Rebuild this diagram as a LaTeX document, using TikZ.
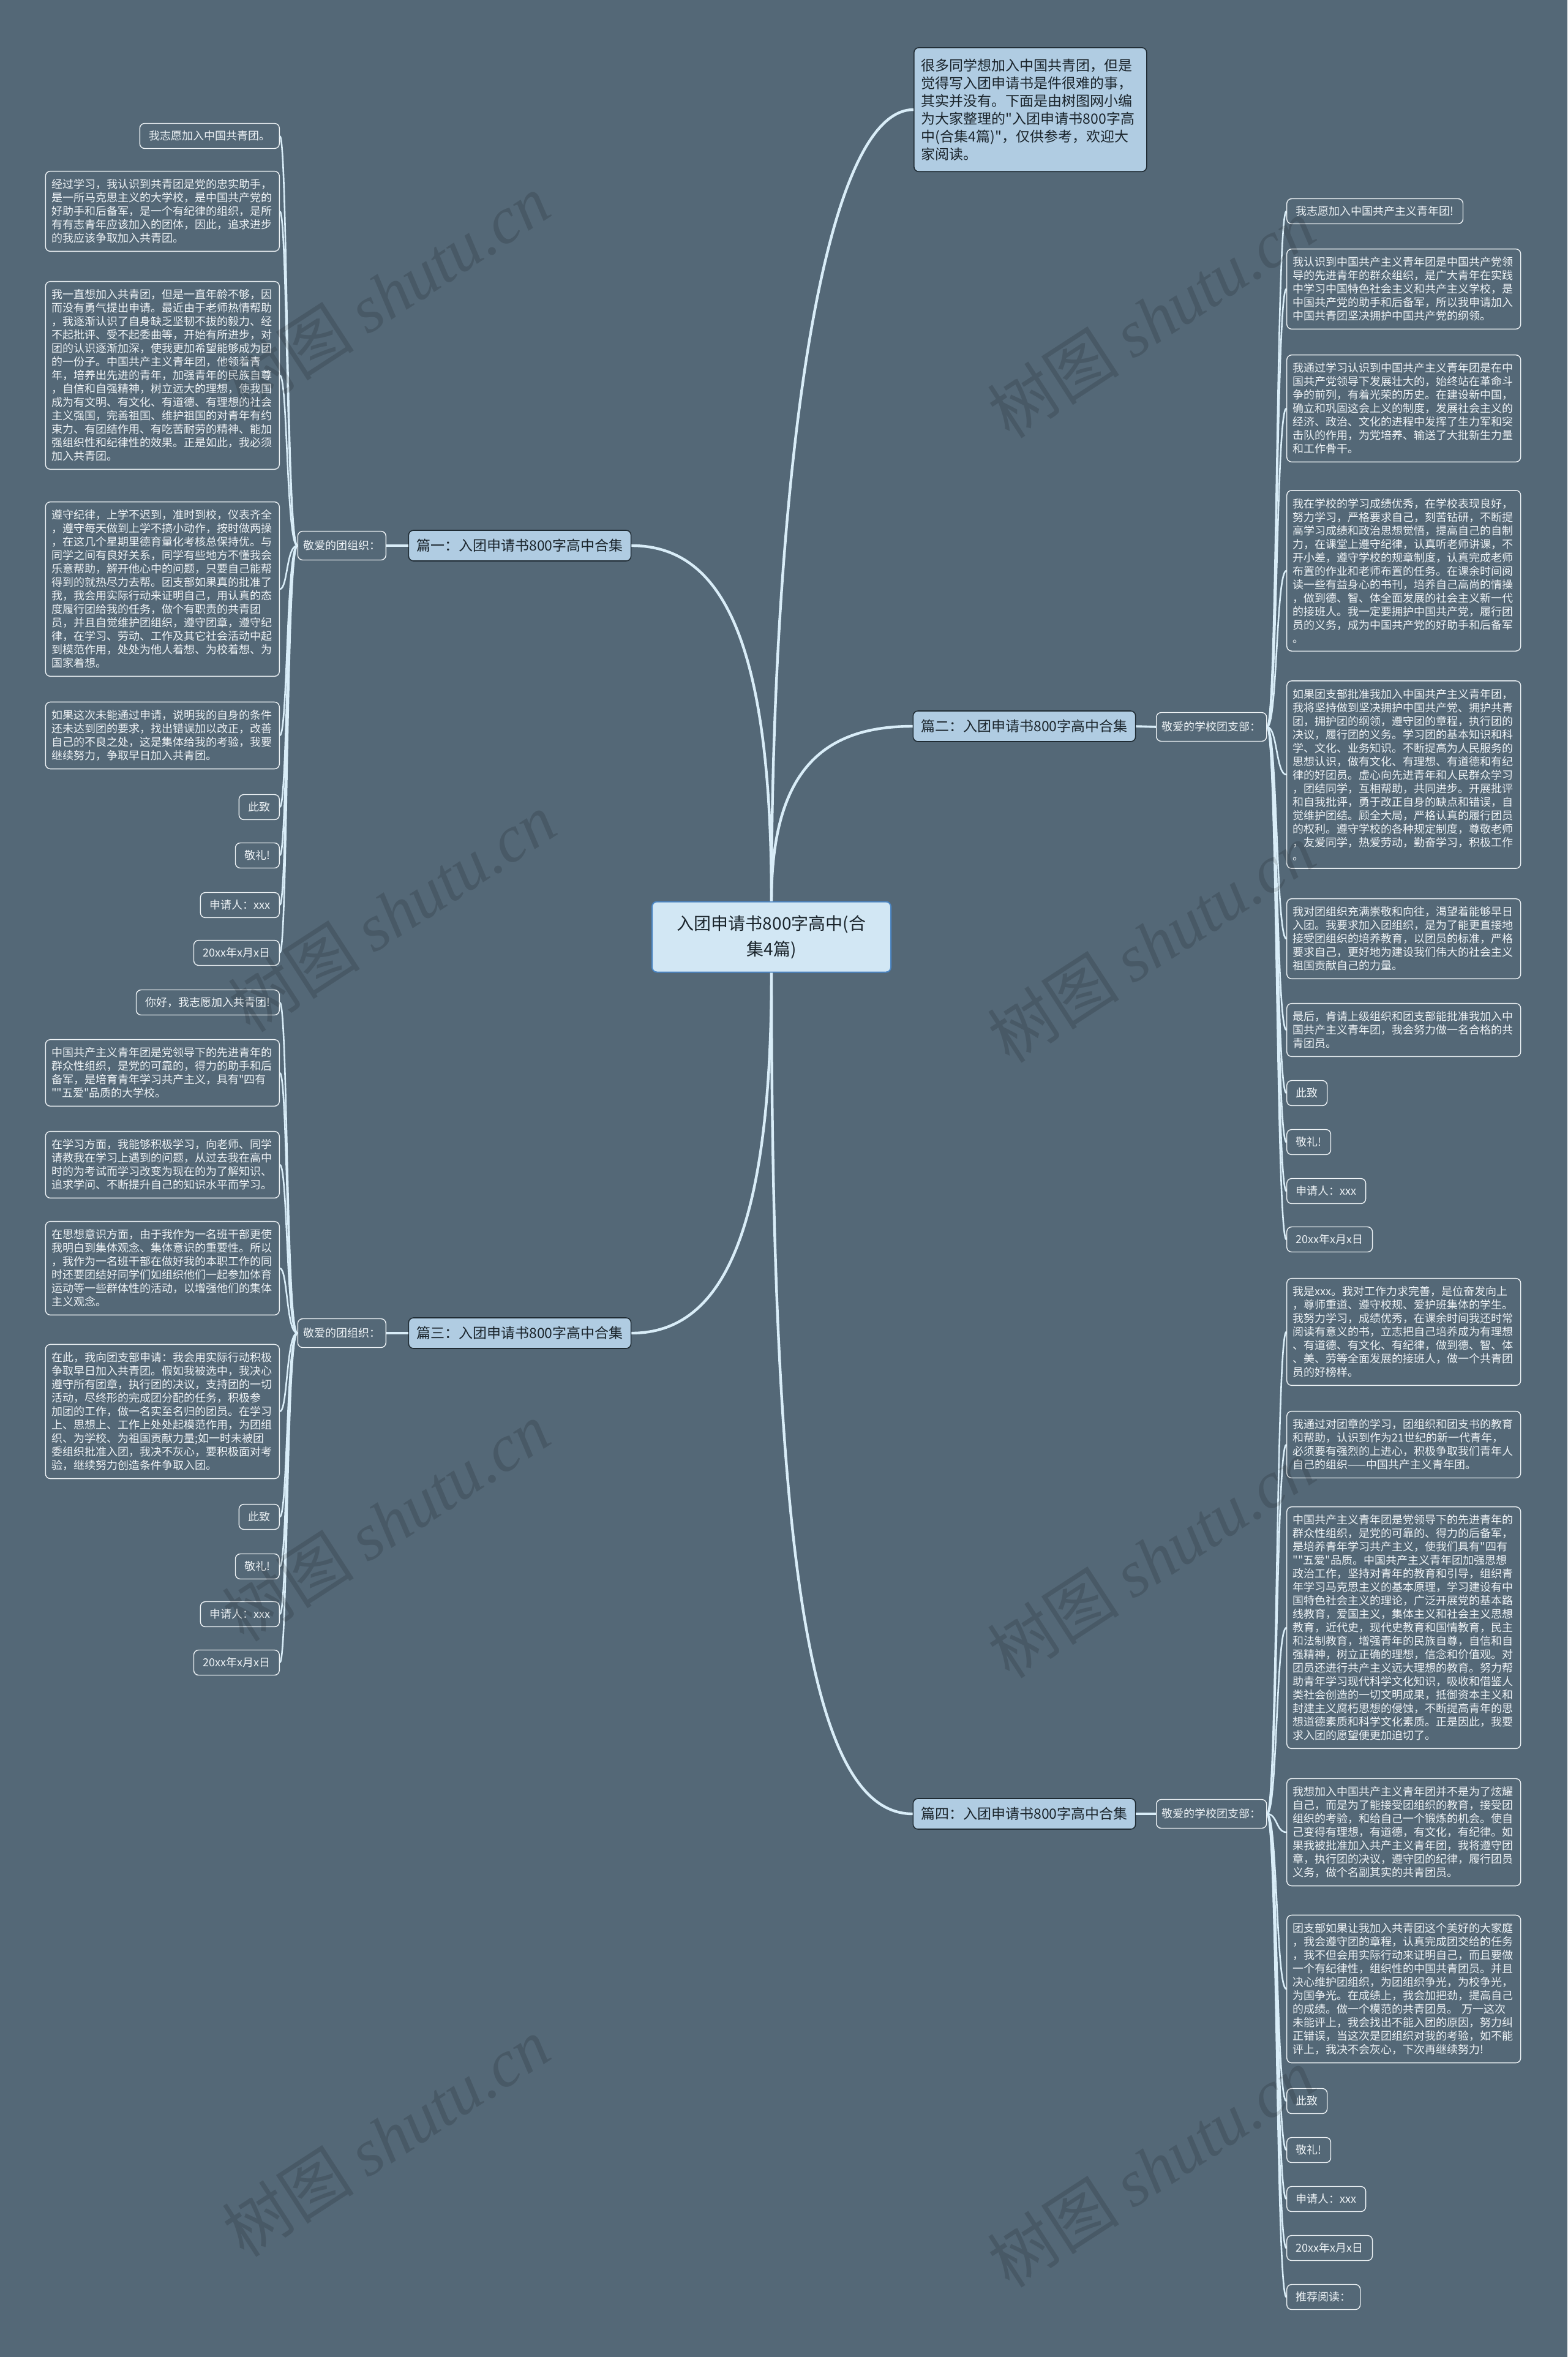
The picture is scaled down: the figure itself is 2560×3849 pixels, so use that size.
\documentclass[tikz,border=0pt]{standalone}
\usepackage{fontspec}
\setmainfont{Noto Sans CJK SC}[Ligatures=TeXOff]
\newfontfamily\wmlatin{Liberation Serif}
\usepackage{tikz}
\definecolor{mapbg}{HTML}{546877}
\definecolor{mapline}{HTML}{D9EDF8}
\definecolor{mapblue}{HTML}{B0CCE2}
\definecolor{mapcore}{HTML}{D2E7F4}
\definecolor{mapcoreedge}{HTML}{4B86C4}
\definecolor{mapdark}{HTML}{1F2B33}
\definecolor{mapink}{HTML}{1A242B}
\definecolor{mapwhite}{HTML}{EEF3F6}

\begin{document}
\begin{tikzpicture}[x=0.5pt, y=-0.5pt,
  hub/.style={rectangle, draw=mapcoreedge, line width=1pt, fill=mapcore, rounded corners=4pt,
    minimum width=195pt, minimum height=57.5pt, align=center,
    font=\fontsize{14pt}{21pt}\selectfont, text=mapink},
  intro/.style={rectangle, draw=mapdark, line width=0.8pt, fill=mapblue, rounded corners=4pt,
    text width=178pt, inner xsep=6pt, inner ysep=9pt, align=left,
    font=\fontsize{11.5pt}{14.5pt}\selectfont, text=mapink},
  part/.style={rectangle, draw=mapdark, line width=0.8pt, fill=mapblue, rounded corners=4pt,
    minimum height=25pt, inner xsep=6.5pt, font=\fontsize{11.5pt}{14pt}\selectfont, text=mapink},
  greet/.style={rectangle, draw=mapwhite, line width=0.7pt, fill=mapbg, rounded corners=4pt,
    minimum height=23.5pt, inner xsep=4.5pt, font=\fontsize{9pt}{11pt}\selectfont, text=mapwhite},
  para/.style={greet, minimum height=0pt, text width=181pt, inner xsep=5pt, inner ysep=6.5pt, align=left},
  tag/.style={greet, minimum height=20.5pt, inner xsep=7.5pt},
  trunk/.style={draw=mapline, line width=2.2pt},
  bough/.style={draw=mapline, line width=1.8pt},
  twig/.style={draw=mapline, line width=1.3pt},
  wmark/.style={text=black, opacity=0.14, rotate=33, font=\fontsize{54pt}{54pt}\selectfont},
]
  \fill[mapbg] (0,0) rectangle (2560,3849);
  \useasboundingbox (0,0) rectangle (2560,3849);

  \node[hub] (core) at (1260,1530) {入团申请书800字高中(合\\集4篇)};
  \node[intro, anchor=north west] (intro) at (1492,77) {很多同学想加入中国共青团，但是\\觉得写入团申请书是件很难的事，\\其实并没有。下面是由树图网小编\\为大家整理的"入团申请书800字高\\中(合集4篇)"，仅供参考，欢迎大\\家阅读。};

  \node[part] (p1) at (849,891) {篇一：入团申请书800字高中合集};
  \node[part] (p2) at (1673,1186) {篇二：入团申请书800字高中合集};
  \node[part] (p3) at (849,2177) {篇三：入团申请书800字高中合集};
  \node[part] (p4) at (1673,2962) {篇四：入团申请书800字高中合集};

  \node[greet, anchor=east] (g1) at (631,891) {敬爱的团组织：};
  \node[greet, anchor=west] (g2) at (1888,1187) {敬爱的学校团支部：};
  \node[greet, anchor=east] (g3) at (631,2177) {敬爱的团组织：};
  \node[greet, anchor=west] (g4) at (1888,2962) {敬爱的学校团支部：};

  % pian 1
  \node[tag, anchor=east] (a1) at (457,222) {我志愿加入中国共青团。};
  \node[para, anchor=east] (a2) at (457,345) {经过学习，我认识到共青团是党的忠实助手，\\是一所马克思主义的大学校，是中国共产党的\\好助手和后备军，是一个有纪律的组织，是所\\有有志青年应该加入的团体，因此，追求进步\\的我应该争取加入共青团。};
  \node[para, anchor=east] (a3) at (457,613) {我一直想加入共青团，但是一直年龄不够，因\\而没有勇气提出申请。最近由于老师热情帮助\\，我逐渐认识了自身缺乏坚韧不拔的毅力、经\\不起批评、受不起委曲等，开始有所进步，对\\团的认识逐渐加深，使我更加希望能够成为团\\的一份子。中国共产主义青年团，他领着青\\年，培养出先进的青年，加强青年的民族自尊\\，自信和自强精神，树立远大的理想，使我国\\成为有文明、有文化、有道德、有理想的社会\\主义强国，完善祖国、维护祖国的对青年有约\\束力、有团结作用、有吃苦耐劳的精神、能加\\强组织性和纪律性的效果。正是如此，我必须\\加入共青团。};
  \node[para, anchor=east] (a4) at (457,962) {遵守纪律，上学不迟到，准时到校，仪表齐全\\，遵守每天做到上学不搞小动作，按时做两操\\，在这几个星期里德育量化考核总保持优。与\\同学之间有良好关系，同学有些地方不懂我会\\乐意帮助，解开他心中的问题，只要自己能帮\\得到的就热尽力去帮。团支部如果真的批准了\\我，我会用实际行动来证明自己，用认真的态\\度履行团给我的任务，做个有职责的共青团\\员，并且自觉维护团组织，遵守团章，遵守纪\\律，在学习、劳动、工作及其它社会活动中起\\到模范作用，处处为他人着想、为校着想、为\\国家着想。};
  \node[para, anchor=east] (a5) at (457,1201) {如果这次未能通过申请，说明我的自身的条件\\还未达到团的要求，找出错误加以改正，改善\\自己的不良之处，这是集体给我的考验，我要\\继续努力，争取早日加入共青团。};
  \node[tag, anchor=east] (a6) at (457,1318) {此致};
  \node[tag, anchor=east] (a7) at (457,1397) {敬礼!};
  \node[tag, anchor=east] (a8) at (457,1478) {申请人：xxx};
  \node[tag, anchor=east] (a9) at (457,1556) {20xx年x月x日};

  % pian 2
  \node[tag, anchor=west] (b1) at (2101,345) {我志愿加入中国共产主义青年团!};
  \node[para, anchor=west] (b2) at (2101,472) {我认识到中国共产主义青年团是中国共产党领\\导的先进青年的群众组织，是广大青年在实践\\中学习中国特色社会主义和共产主义学校，是\\中国共产党的助手和后备军，所以我申请加入\\中国共青团坚决拥护中国共产党的纲领。};
  \node[para, anchor=west] (b3) at (2101,667) {我通过学习认识到中国共产主义青年团是在中\\国共产党领导下发展壮大的，始终站在革命斗\\争的前列，有着光荣的历史。在建设新中国，\\确立和巩固这会上义的制度，发展社会主义的\\经济、政治、文化的进程中发挥了生力军和突\\击队的作用，为党培养、输送了大批新生力量\\和工作骨干。};
  \node[para, anchor=west] (b4) at (2101,932) {我在学校的学习成绩优秀，在学校表现良好，\\努力学习，严格要求自己，刻苦钻研，不断提\\高学习成绩和政治思想觉悟，提高自己的自制\\力，在课堂上遵守纪律，认真听老师讲课，不\\开小差，遵守学校的规章制度，认真完成老师\\布置的作业和老师布置的任务。在课余时间阅\\读一些有益身心的书刊，培养自己高尚的情操\\，做到德、智、体全面发展的社会主义新一代\\的接班人。我一定要拥护中国共产党，履行团\\员的义务，成为中国共产党的好助手和后备军\\。};
  \node[para, anchor=west] (b5) at (2101,1265) {如果团支部批准我加入中国共产主义青年团，\\我将坚持做到坚决拥护中国共产党、拥护共青\\团，拥护团的纲领，遵守团的章程，执行团的\\决议，履行团的义务。学习团的基本知识和科\\学、文化、业务知识。不断提高为人民服务的\\思想认识，做有文化、有理想、有道德和有纪\\律的好团员。虚心向先进青年和人民群众学习\\，团结同学，互相帮助，共同进步。开展批评\\和自我批评，勇于改正自身的缺点和错误，自\\觉维护团结。顾全大局，严格认真的履行团员\\的权利。遵守学校的各种规定制度，尊敬老师\\，友爱同学，热爱劳动，勤奋学习，积极工作\\。};
  \node[para, anchor=west] (b6) at (2101,1533) {我对团组织充满崇敬和向往，渴望着能够早日\\入团。我要求加入团组织，是为了能更直接地\\接受团组织的培养教育，以团员的标准，严格\\要求自己，更好地为建设我们伟大的社会主义\\祖国贡献自己的力量。};
  \node[para, anchor=west] (b7) at (2101,1682) {最后，肯请上级组织和团支部能批准我加入中\\国共产主义青年团，我会努力做一名合格的共\\青团员。};
  \node[tag, anchor=west] (b8) at (2101,1785) {此致};
  \node[tag, anchor=west] (b9) at (2101,1865) {敬礼!};
  \node[tag, anchor=west] (b10) at (2101,1945) {申请人：xxx};
  \node[tag, anchor=west] (b11) at (2101,2024) {20xx年x月x日};

  % pian 3
  \node[tag, anchor=east] (c1) at (457,1637) {你好，我志愿加入共青团!};
  \node[para, anchor=east] (c2) at (457,1752) {中国共产主义青年团是党领导下的先进青年的\\群众性组织，是党的可靠的，得力的助手和后\\备军，是培育青年学习共产主义，具有"四有\\""五爱"品质的大学校。};
  \node[para, anchor=east] (c3) at (457,1902) {在学习方面，我能够积极学习，向老师、同学\\请教我在学习上遇到的问题，从过去我在高中\\时的为考试而学习改变为现在的为了解知识、\\追求学问、不断提升自己的知识水平而学习。};
  \node[para, anchor=east] (c4) at (457,2071) {在思想意识方面，由于我作为一名班干部更使\\我明白到集体观念、集体意识的重要性。所以\\，我作为一名班干部在做好我的本职工作的同\\时还要团结好同学们如组织他们一起参加体育\\运动等一些群体性的活动，以增强他们的集体\\主义观念。};
  \node[para, anchor=east] (c5) at (457,2305) {在此，我向团支部申请：我会用实际行动积极\\争取早日加入共青团。假如我被选中，我决心\\遵守所有团章，执行团的决议，支持团的一切\\活动，尽终形的完成团分配的任务，积极参\\加团的工作，做一名实至名归的团员。在学习\\上、思想上、工作上处处起模范作用，为团组\\织、为学校、为祖国贡献力量;如一时未被团\\委组织批准入团，我决不灰心，要积极面对考\\验，继续努力创造条件争取入团。};
  \node[tag, anchor=east] (c6) at (457,2477) {此致};
  \node[tag, anchor=east] (c7) at (457,2558) {敬礼!};
  \node[tag, anchor=east] (c8) at (457,2636) {申请人：xxx};
  \node[tag, anchor=east] (c9) at (457,2715) {20xx年x月x日};

  % pian 4
  \node[para, anchor=west] (d1) at (2101,2175) {我是xxx。我对工作力求完善，是位奋发向上\\，尊师重道、遵守校规、爱护班集体的学生。\\我努力学习，成绩优秀，在课余时间我还时常\\阅读有意义的书，立志把自己培养成为有理想\\、有道德、有文化、有纪律，做到德、智、体\\、美、劳等全面发展的接班人，做一个共青团\\员的好榜样。};
  \node[para, anchor=west] (d2) at (2101,2359) {我通过对团章的学习，团组织和团支书的教育\\和帮助，认识到作为21世纪的新一代青年，\\必须要有强烈的上进心，积极争取我们青年人\\自己的组织——中国共产主义青年团。};
  \node[para, anchor=west] (d3) at (2101,2658) {中国共产主义青年团是党领导下的先进青年的\\群众性组织，是党的可靠的、得力的后备军，\\是培养青年学习共产主义，使我们具有"四有\\""五爱"品质。中国共产主义青年团加强思想\\政治工作，坚持对青年的教育和引导，组织青\\年学习马克思主义的基本原理，学习建设有中\\国特色社会主义的理论，广泛开展党的基本路\\线教育，爱国主义，集体主义和社会主义思想\\教育，近代史，现代史教育和国情教育，民主\\和法制教育，增强青年的民族自尊，自信和自\\强精神，树立正确的理想，信念和价值观。对\\团员还进行共产主义远大理想的教育。努力帮\\助青年学习现代科学文化知识，吸收和借鉴人\\类社会创造的一切文明成果，抵御资本主义和\\封建主义腐朽思想的侵蚀，不断提高青年的思\\想道德素质和科学文化素质。正是因此，我要\\求入团的愿望便更加迫切了。};
  \node[para, anchor=west] (d4) at (2101,2992) {我想加入中国共产主义青年团并不是为了炫耀\\自己，而是为了能接受团组织的教育，接受团\\组织的考验，和给自己一个锻炼的机会。使自\\己变得有理想，有道德，有文化，有纪律。如\\果我被批准加入共产主义青年团，我将遵守团\\章，执行团的决议，遵守团的纪律，履行团员\\义务，做个名副其实的共青团员。};
  \node[para, anchor=west] (d5) at (2101,3248) {团支部如果让我加入共青团这个美好的大家庭\\，我会遵守团的章程，认真完成团交给的任务\\，我不但会用实际行动来证明自己，而且要做\\一个有纪律性，组织性的中国共青团员。并且\\决心维护团组织，为团组织争光，为校争光，\\为国争光。在成绩上，我会加把劲，提高自己\\的成绩。做一个模范的共青团员。 万一这次\\未能评上，我会找出不能入团的原因，努力纠\\正错误，当这次是团组织对我的考验，如不能\\评上，我决不会灰心，下次再继续努力!};
  \node[tag, anchor=west] (d6) at (2101,3431) {此致};
  \node[tag, anchor=west] (d7) at (2101,3511) {敬礼!};
  \node[tag, anchor=west] (d8) at (2101,3591) {申请人：xxx};
  \node[tag, anchor=west] (d9) at (2101,3671) {20xx年x月x日};
  \node[tag, anchor=west] (d10) at (2101,3751) {推荐阅读：};

  \draw[trunk] (core.north) .. controls +(0,-620) and +(-160,0) .. (intro.west);
  \draw[trunk] (core.north) .. controls +(0,-420) and +(150,0) .. (p1.east);
  \draw[trunk] (core.north) .. controls +(0,-220) and +(-140,0) .. (p2.west);
  \draw[trunk] (core.south) .. controls +(0,420) and +(150,0) .. (p3.east);
  \draw[trunk] (core.south) .. controls +(0,1000) and +(-160,0) .. (p4.west);

  \draw[bough] (p1.west) -- (g1.east);
  \draw[bough] (p2.east) -- (g2.west);
  \draw[bough] (p3.west) -- (g3.east);
  \draw[bough] (p4.east) -- (g4.west);

  \draw[twig] (g1.west) .. controls +(-18,0) and +(13,0) .. (a1.east);
  \draw[twig] (g1.west) .. controls +(-18,0) and +(13,0) .. (a2.east);
  \draw[twig] (g1.west) .. controls +(-18,0) and +(13,0) .. (a3.east);
  \draw[twig] (g1.west) .. controls +(-18,0) and +(13,0) .. (a4.east);
  \draw[twig] (g1.west) .. controls +(-18,0) and +(13,0) .. (a5.east);
  \draw[twig] (g1.west) .. controls +(-18,0) and +(13,0) .. (a6.east);
  \draw[twig] (g1.west) .. controls +(-18,0) and +(13,0) .. (a7.east);
  \draw[twig] (g1.west) .. controls +(-18,0) and +(13,0) .. (a8.east);
  \draw[twig] (g1.west) .. controls +(-18,0) and +(13,0) .. (a9.east);

  \draw[twig] (g2.east) .. controls +(17,0) and +(-17,0) .. (b1.west);
  \draw[twig] (g2.east) .. controls +(17,0) and +(-17,0) .. (b2.west);
  \draw[twig] (g2.east) .. controls +(17,0) and +(-17,0) .. (b3.west);
  \draw[twig] (g2.east) .. controls +(17,0) and +(-17,0) .. (b4.west);
  \draw[twig] (g2.east) .. controls +(17,0) and +(-17,0) .. (b5.west);
  \draw[twig] (g2.east) .. controls +(17,0) and +(-17,0) .. (b6.west);
  \draw[twig] (g2.east) .. controls +(17,0) and +(-17,0) .. (b7.west);
  \draw[twig] (g2.east) .. controls +(17,0) and +(-17,0) .. (b8.west);
  \draw[twig] (g2.east) .. controls +(17,0) and +(-17,0) .. (b9.west);
  \draw[twig] (g2.east) .. controls +(17,0) and +(-17,0) .. (b10.west);
  \draw[twig] (g2.east) .. controls +(17,0) and +(-17,0) .. (b11.west);

  \draw[twig] (g3.west) .. controls +(-18,0) and +(13,0) .. (c1.east);
  \draw[twig] (g3.west) .. controls +(-18,0) and +(13,0) .. (c2.east);
  \draw[twig] (g3.west) .. controls +(-18,0) and +(13,0) .. (c3.east);
  \draw[twig] (g3.west) .. controls +(-18,0) and +(13,0) .. (c4.east);
  \draw[twig] (g3.west) .. controls +(-18,0) and +(13,0) .. (c5.east);
  \draw[twig] (g3.west) .. controls +(-18,0) and +(13,0) .. (c6.east);
  \draw[twig] (g3.west) .. controls +(-18,0) and +(13,0) .. (c7.east);
  \draw[twig] (g3.west) .. controls +(-18,0) and +(13,0) .. (c8.east);
  \draw[twig] (g3.west) .. controls +(-18,0) and +(13,0) .. (c9.east);

  \draw[twig] (g4.east) .. controls +(17,0) and +(-17,0) .. (d1.west);
  \draw[twig] (g4.east) .. controls +(17,0) and +(-17,0) .. (d2.west);
  \draw[twig] (g4.east) .. controls +(17,0) and +(-17,0) .. (d3.west);
  \draw[twig] (g4.east) .. controls +(17,0) and +(-17,0) .. (d4.west);
  \draw[twig] (g4.east) .. controls +(17,0) and +(-17,0) .. (d5.west);
  \draw[twig] (g4.east) .. controls +(17,0) and +(-17,0) .. (d6.west);
  \draw[twig] (g4.east) .. controls +(17,0) and +(-17,0) .. (d7.west);
  \draw[twig] (g4.east) .. controls +(17,0) and +(-17,0) .. (d8.west);
  \draw[twig] (g4.east) .. controls +(17,0) and +(-17,0) .. (d9.west);
  \draw[twig] (g4.east) .. controls +(17,0) and +(-17,0) .. (d10.west);

  % watermark
  \node[wmark] (w1) at (630,480) {树图 {\wmlatin\itshape shutu.cn}};
  \node[wmark] (w2) at (1880,520) {树图 {\wmlatin\itshape shutu.cn}};
  \node[wmark] (w3) at (640,1490) {树图 {\wmlatin\itshape shutu.cn}};
  \node[wmark] (w4) at (1880,1540) {树图 {\wmlatin\itshape shutu.cn}};
  \node[wmark] (w5) at (630,2485) {树图 {\wmlatin\itshape shutu.cn}};
  \node[wmark] (w6) at (1880,2545) {树图 {\wmlatin\itshape shutu.cn}};
  \node[wmark] (w7) at (630,3490) {树图 {\wmlatin\itshape shutu.cn}};
  \node[wmark] (w8) at (1880,3540) {树图 {\wmlatin\itshape shutu.cn}};
\end{tikzpicture}
\end{document}
